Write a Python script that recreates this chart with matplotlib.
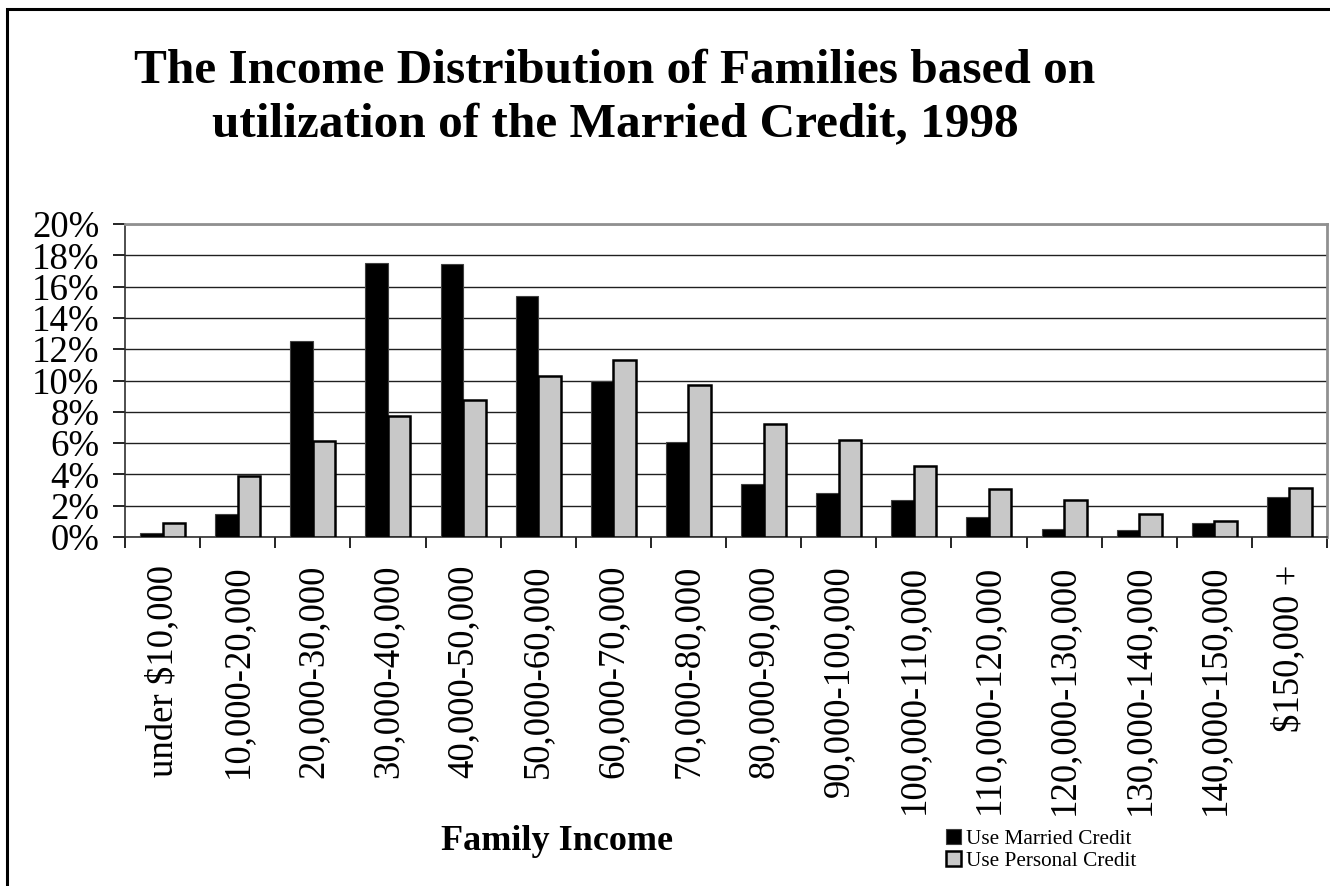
import numpy as np
import matplotlib.pyplot as plt
from matplotlib.patches import Rectangle

plt.rcParams['font.family'] = ['Liberation Serif', 'DejaVu Serif']

categories = ['under $10,000', '10,000-20,000', '20,000-30,000', '30,000-40,000',
              '40,000-50,000', '50,000-60,000', '60,000-70,000', '70,000-80,000',
              '80,000-90,000', '90,000-100,000', '100,000-110,000', '110,000-120,000',
              '120,000-130,000', '130,000-140,000', '140,000-150,000', '$150,000 +']
married = [0.26, 1.49, 12.55, 17.49, 17.43, 15.38, 9.97, 6.06,
           3.40, 2.81, 2.36, 1.30, 0.53, 0.47, 0.91, 2.57]
personal = [0.89, 3.87, 6.13, 7.70, 8.77, 10.26, 11.32, 9.74,
            7.23, 6.21, 4.53, 3.04, 2.36, 1.45, 1.04, 3.15]
yticks = [0, 2, 4, 6, 8, 10, 12, 14, 16, 18, 20]

W, H = 1330, 886
fig = plt.figure(figsize=(W / 100, H / 100), dpi=100)

# outer chart frame (runs off the right and bottom edges)
fig.patches.append(Rectangle((7 / W, -0.05), 1.2, 1 - 9 / H + 0.05, transform=fig.transFigure,
                             fill=False, edgecolor='black', linewidth=2.2))

ax = fig.add_axes([125 / W, 1 - 537 / H, 1202 / W, 313 / H])
x = np.arange(len(categories))
bw = 0.3
ax.bar(x - bw / 2, married, width=bw, color='black', edgecolor='#404040', linewidth=0.8,
       label='Use Married Credit', zorder=3)
ax.bar(x + bw / 2, personal, width=bw, color='#c8c8c8', edgecolor='black', linewidth=1.8,
       label='Use Personal Credit', zorder=3)

ax.set_xlim(-0.5, len(categories) - 0.5)
ax.set_ylim(0, 20)
ax.set_yticks(yticks)
ax.set_yticklabels([f'{v}%' for v in yticks], fontsize=26.5)
ax.yaxis.grid(True, color='#202020', linewidth=1.0, zorder=0)
ax.set_axisbelow(True)

ax.set_xticks(np.arange(-0.5, len(categories), 1.0))
ax.set_xticklabels([])
ax.set_xticks(x, minor=True)
ax.set_xticklabels(categories, minor=True, rotation=90, fontsize=26.5, va='top', ha='center')
ax.tick_params(axis='x', which='minor', length=0, pad=20)
ax.tick_params(axis='x', which='major', length=8, width=1.2, direction='out')
ax.tick_params(axis='y', length=8.5, width=1.2, direction='out', pad=10)

for s in ['top', 'right']:
    ax.spines[s].set_color('#909090')
    ax.spines[s].set_linewidth(2)
for s in ['left', 'bottom']:
    ax.spines[s].set_color('#303030')
    ax.spines[s].set_linewidth(1.2)

fig.text(615 / W, 1 - 98 / H,
         'The Income Distribution of Families based on\nutilization of the Married Credit, 1998',
         ha='center', va='center', fontsize=35.5, fontweight='bold', linespacing=1.32)
fig.text(557 / W, 1 - 842 / H, 'Family Income', ha='center', va='center',
         fontsize=26, fontweight='bold')

fig.legend(loc='upper left', bbox_to_anchor=(946 / W, 1 - 829 / H), frameon=False,
           fontsize=15.3, handlelength=0.7, handleheight=0.7, handletextpad=0.25,
           labelspacing=0.1, borderpad=0, borderaxespad=0)

fig.savefig('out.png', dpi=100)
